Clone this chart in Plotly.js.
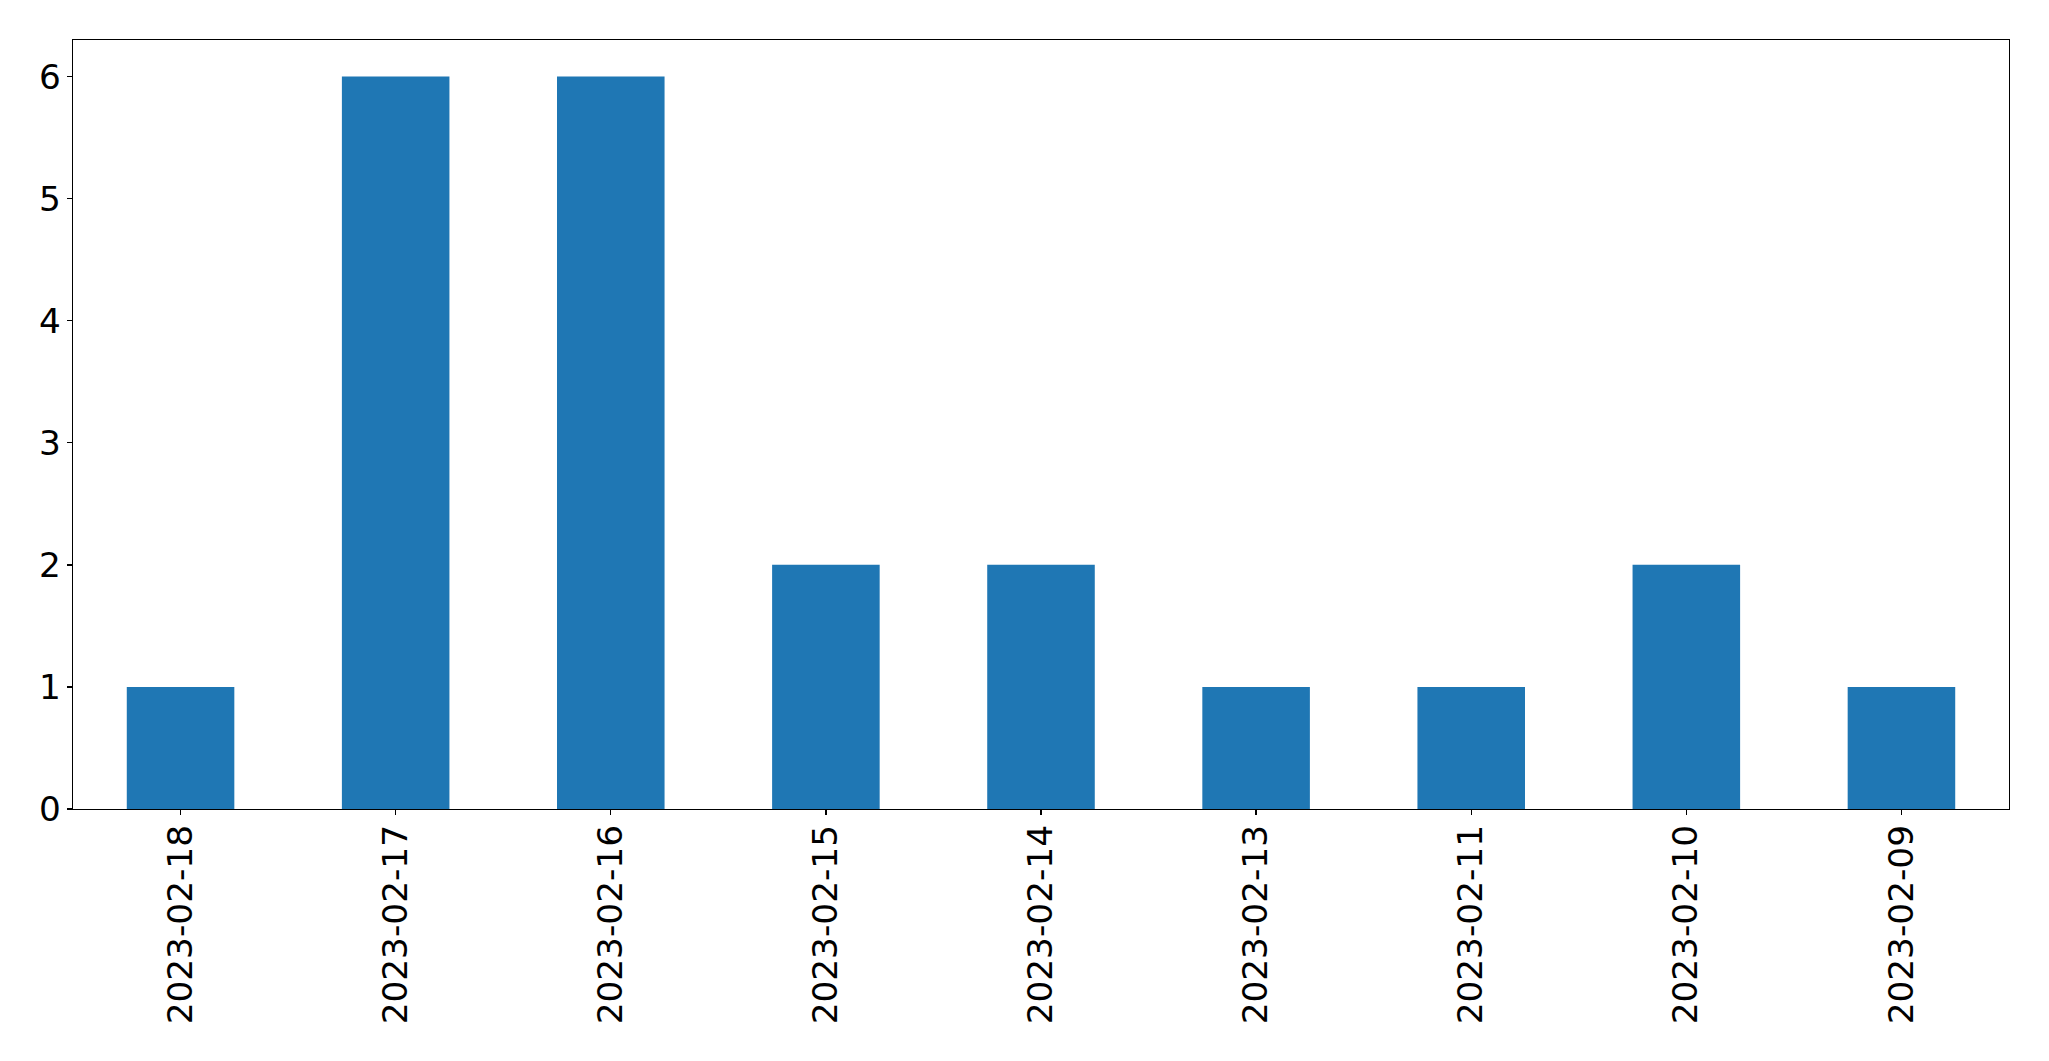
<!DOCTYPE html>
<html>
<head>
<meta charset="utf-8">
<script src="https://cdn.plot.ly/plotly-3.0.1.min.js"></script>
<style>html,body{margin:0;padding:0;background:#fff;}#chart{width:2049px;height:1061px;}</style>
</head>
<body>
<div id="chart"></div>
<script>
const categories = ["2023-02-18","2023-02-17","2023-02-16","2023-02-15","2023-02-14","2023-02-13","2023-02-11","2023-02-10","2023-02-09"];
const counts = [1,6,6,2,2,1,1,2,1];
const yTicks = [0,1,2,3,4,5,6];

const axisCommon = {
  showline: true, mirror: true, linecolor: '#000', linewidth: 1.3,
  ticks: 'outside', ticklen: 5, tickwidth: 1.3, tickcolor: '#000',
  showgrid: false, zeroline: false,
  tickfont: {family: 'DejaVu Sans', size: 34.3, color: '#000'}
};

Plotly.newPlot('chart', [{
  type: 'bar',
  x: categories,
  y: counts,
  marker: {color: '#1f77b4', line: {width: 0}},
  hoverinfo: 'none'
}], {
  width: 2049, height: 1061,
  margin: {l: 72.5, r: 40, t: 39.5, b: 251.5, pad: 0},
  paper_bgcolor: '#fff', plot_bgcolor: '#fff',
  bargap: 0.5,
  showlegend: false,
  xaxis: Object.assign({}, axisCommon, {type: 'category', tickangle: -90, range: [-0.5, 8.5], ticklabelstandoff: -4}),
  yaxis: Object.assign({}, axisCommon, {range: [0, 6.3], tickmode: 'array', tickvals: yTicks, ticktext: yTicks.map(String), ticklabelstandoff: -1})
}, {staticPlot: true});
</script>
</body>
</html>
